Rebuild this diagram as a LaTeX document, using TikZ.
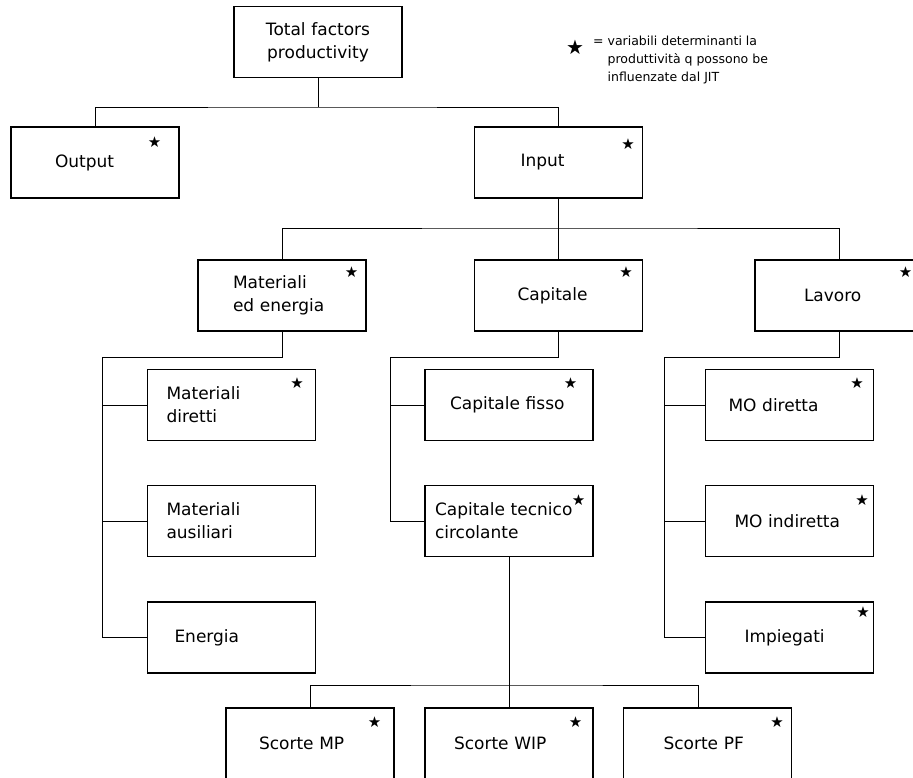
\documentclass[tikz,border=0pt]{standalone}
\usepackage{fontspec}
\setmainfont{DejaVu Sans}

\begin{document}
\begin{tikzpicture}[x=1pt,y=-1pt,
    box/.style 2 args={draw,line width=1.2pt,minimum width=168pt,minimum height=71pt,inner xsep=#1,text width=#2,align=left,font=\fontsize{17}{23}\selectfont},
    starmark/.style={inner sep=0pt,font=\fontsize{15}{15}\selectfont},
    conn/.style={line width=0.9pt}]
        \useasboundingbox(0,0)rectangle(913,778);
        \clip(0,0)rectangle(913,778);

        \node[box={10pt}{148pt},align=center](tot)at(318,42){Total factors\\productivity};
        \node[box={44pt}{80pt}](out)at(95,162.5){Output};
        \node[box={46pt}{76pt}](inp)at(558.5,162.5){Input};

        \node[box={35pt}{98pt}](mat)at(282,295.5){Materiali\\ed energia};
        \node[box={43pt}{82pt}](cap)at(558.5,295.5){Capitale};
        \node[box={49pt}{70pt}](lav)at(839,295.5){Lavoro};

        \node[box={19pt}{130pt}](md)at(231.5,405){Materiali\\diretti};
        \node[box={19pt}{130pt}](ma)at(231.5,521){Materiali\\ausiliari};
        \node[box={27pt}{114pt}](en)at(231.5,637.5){Energia};
        \node[box={25pt}{118pt}](cf)at(509,405){Capitale fisso};
        \node[box={10pt}{148pt}](ct)at(509,521){Capitale tecnico\\circolante};
        \node[box={23pt}{122pt}](mod)at(789.5,405){MO diretta};
        \node[box={29pt}{110pt}](moi)at(789.5,521){MO indiretta};
        \node[box={39pt}{90pt}](imp)at(789.5,637.5){Impiegati};

        \node[box={33pt}{102pt}](smp)at(310,743.5){Scorte MP};
        \node[box={29pt}{110pt}](swip)at(509,743.5){Scorte WIP};
        \node[box={40pt}{88pt}](spf)at(707.5,743.5){Scorte PF};

        \foreach \nm/\dx/\dy in {out/25/16,inp/15/18,mat/15/13,cap/17/13,lav/18/13,md/19/14,cf/23/14,ct/15/15,mod/17/14,moi/12/15,imp/11/11,smp/20/15,swip/18/15,spf/15/15}
            \node[starmark](st\nm)at([shift={(-\dx,\dy)}]\nm.north east){★};

        \node[starmark,font=\fontsize{20}{20}\selectfont](keystar)at(575,47){★};
        \node[anchor=north west,inner sep=0pt,align=left,font=\fontsize{12.5}{18}\selectfont](key)at(593,36){= variabili determinanti la\\\hphantom{= }produttività q possono be\\\hphantom{= }influenzate dal JIT};

        \coordinate(j1)at(318,107);
        \coordinate(j2)at(558.5,228);
        \coordinate(j3)at(102,357);
        \coordinate(j4)at(390,357);
        \coordinate(j5)at(664,357);
        \coordinate(j6)at(509,685);

        \draw[conn](tot)--(j1);
        \draw[conn](out.north)|-(j1)-|(inp.north);
        \draw[conn](inp)--(cap);
        \draw[conn](mat.north)|-(j2)-|(lav.north);
        \draw[conn](mat.south)|-(j3)|-(en.west);
        \draw[conn](j3|-md.west)--(md.west);
        \draw[conn](j3|-ma.west)--(ma.west);
        \draw[conn](cap.south)|-(j4)|-(ct.west);
        \draw[conn](j4|-cf.west)--(cf.west);
        \draw[conn](lav.south)|-(j5)|-(imp.west);
        \draw[conn](j5|-mod.west)--(mod.west);
        \draw[conn](j5|-moi.west)--(moi.west);
        \draw[conn](ct)--(swip);
        \draw[conn](smp.north)|-(j6)-|([xshift=-9pt]spf.north);
    \end{tikzpicture}
\end{document}
